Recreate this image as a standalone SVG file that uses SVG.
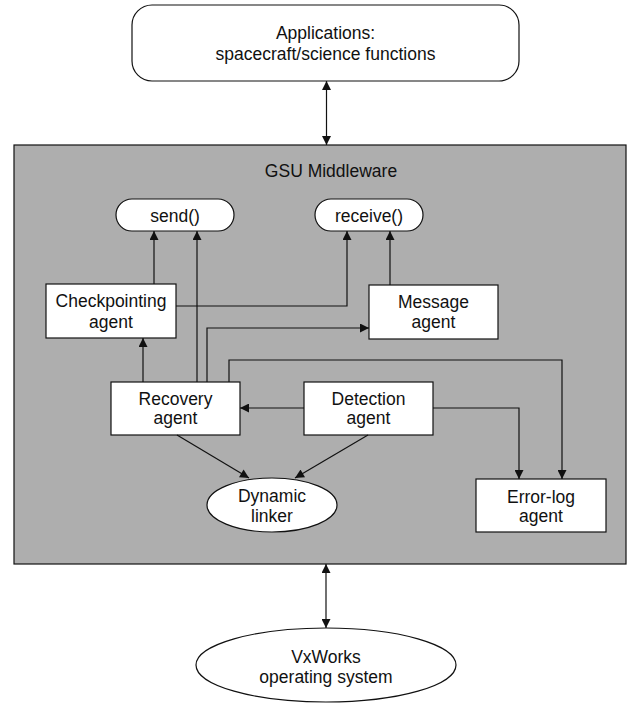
<svg xmlns="http://www.w3.org/2000/svg" width="639" height="704" viewBox="0 0 639 704">
  <style>
    .box { fill: #ffffff; stroke: #111111; stroke-width: 1.2; }
    .mw { fill: #aeaeae; stroke: #111111; stroke-width: 1.2; }
    .lbl { font-family: "Liberation Sans", Arial, sans-serif; font-size: 17.5px; fill: #111111; text-anchor: middle; }
    .wire { fill: none; stroke: #111111; stroke-width: 1.2; }
  </style>
  <defs>
    <marker id="arrow" viewBox="0 0 10 10" refX="10" refY="5" markerWidth="10" markerHeight="9" markerUnits="userSpaceOnUse" orient="auto-start-reverse">
      <path d="M0,0 L10,5 L0,10 Z" fill="#111111"/>
    </marker>
  </defs>

  <!-- Middleware container -->
  <g id="middleware">
    <rect class="mw" x="14" y="145" width="612" height="419"/>
    <text class="lbl" x="331" y="177">GSU Middleware</text>
  </g>

  <g id="applications">
    <rect class="box" x="132" y="5" width="387" height="76" rx="20" ry="20"/>
    <text class="lbl" x="325.5" y="39">Applications:</text>
    <text class="lbl" x="325.5" y="60">spacecraft/science functions</text>
  </g>

  <g id="send">
    <rect class="box" x="116" y="199" width="118" height="32" rx="16" ry="16"/>
    <text class="lbl" x="175" y="222">send()</text>
  </g>

  <g id="receive">
    <rect class="box" x="315" y="199" width="108" height="32" rx="16" ry="16"/>
    <text class="lbl" x="369" y="222">receive()</text>
  </g>

  <g id="checkpointing">
    <rect class="box" x="46" y="284" width="130" height="54"/>
    <text class="lbl" x="111" y="307">Checkpointing</text>
    <text class="lbl" x="111" y="328">agent</text>
  </g>

  <g id="message">
    <rect class="box" x="369" y="285" width="129" height="54"/>
    <text class="lbl" x="433.5" y="308">Message</text>
    <text class="lbl" x="433.5" y="328">agent</text>
  </g>

  <g id="recovery">
    <rect class="box" x="111" y="382" width="129" height="53"/>
    <text class="lbl" x="175.5" y="405">Recovery</text>
    <text class="lbl" x="175.5" y="424">agent</text>
  </g>

  <g id="detection">
    <rect class="box" x="304" y="382" width="129" height="53"/>
    <text class="lbl" x="368.5" y="405">Detection</text>
    <text class="lbl" x="368.5" y="424">agent</text>
  </g>

  <g id="dynamic-linker">
    <ellipse class="box" cx="272" cy="505" rx="65" ry="27"/>
    <text class="lbl" x="272" y="502">Dynamic</text>
    <text class="lbl" x="272" y="522">linker</text>
  </g>

  <g id="error-log">
    <rect class="box" x="476" y="479" width="130" height="53"/>
    <text class="lbl" x="541" y="503">Error-log</text>
    <text class="lbl" x="541" y="522">agent</text>
  </g>

  <g id="vxworks">
    <ellipse class="box" cx="326" cy="665" rx="130" ry="37"/>
    <text class="lbl" x="326" y="663">VxWorks</text>
    <text class="lbl" x="326" y="683">operating system</text>
  </g>

  <!-- Connectors -->
  <g id="connectors">
    <!-- applications <-> middleware -->
    <path class="wire" d="M326.5,81 L326.5,145" marker-start="url(#arrow)" marker-end="url(#arrow)"/>
    <!-- middleware <-> VxWorks -->
    <path class="wire" d="M326,564 L326,628" marker-start="url(#arrow)" marker-end="url(#arrow)"/>
    <!-- checkpointing -> send -->
    <path class="wire" d="M154,284 L154,231" marker-end="url(#arrow)"/>
    <!-- recovery -> send -->
    <path class="wire" d="M197,382 L197,231" marker-end="url(#arrow)"/>
    <!-- checkpointing -> receive -->
    <path class="wire" d="M176,306 L347,306 L347,231" marker-end="url(#arrow)"/>
    <!-- message -> receive -->
    <path class="wire" d="M390,285 L390,231" marker-end="url(#arrow)"/>
    <!-- recovery -> checkpointing -->
    <path class="wire" d="M143,382 L143,338" marker-end="url(#arrow)"/>
    <!-- recovery -> message -->
    <path class="wire" d="M207,382 L207,328 L369,328" marker-end="url(#arrow)"/>
    <!-- recovery -> error-log -->
    <path class="wire" d="M229,382 L229,360 L562,360 L562,479" marker-end="url(#arrow)"/>
    <!-- detection -> recovery -->
    <path class="wire" d="M304,408 L240,408" marker-end="url(#arrow)"/>
    <!-- detection -> error-log -->
    <path class="wire" d="M433,408 L519,408 L519,479" marker-end="url(#arrow)"/>
    <!-- recovery -> dynamic linker -->
    <path class="wire" d="M177,435 L249,478" marker-end="url(#arrow)"/>
    <!-- detection -> dynamic linker -->
    <path class="wire" d="M368,435 L295,478" marker-end="url(#arrow)"/>
  </g>
</svg>
